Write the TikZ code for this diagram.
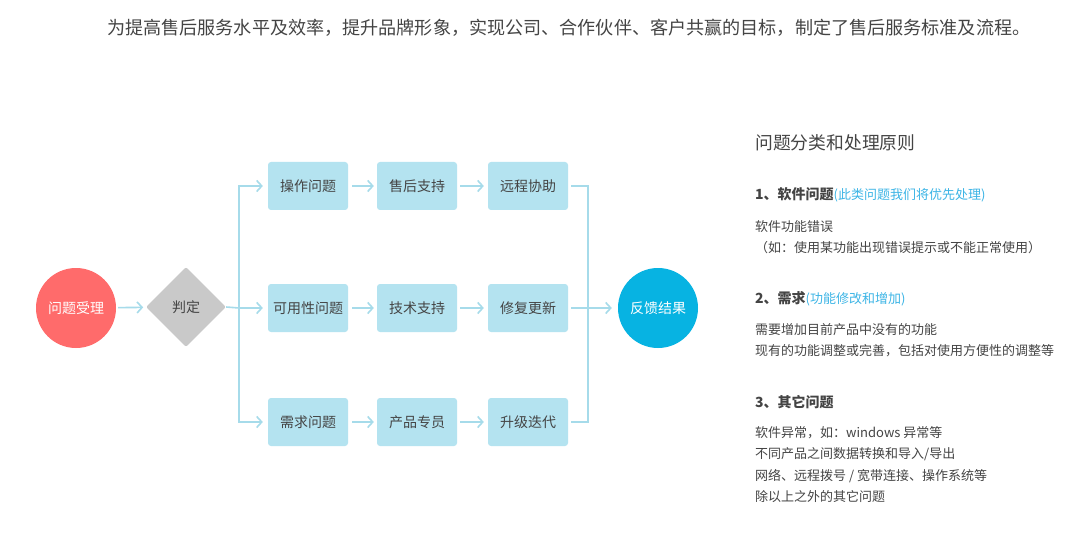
\documentclass[tikz,border=0pt]{standalone}
\usepackage{fontspec}
\setmainfont{Noto Sans CJK SC}
\usetikzlibrary{shapes.geometric,arrows.meta}
\definecolor{boxfill}{HTML}{B4E3F0}
\definecolor{linec}{HTML}{A6DBEA}
\definecolor{redc}{HTML}{FF6B6B}
\definecolor{grayd}{HTML}{C9C9C9}
\definecolor{bluec}{HTML}{07B3E2}
\definecolor{txt}{HTML}{444444}
\definecolor{bluetxt}{HTML}{3DB5E6}
\tikzset{
  stepbox/.style={rectangle, fill=boxfill, rounded corners=3pt, minimum width=80pt, minimum height=48pt, inner sep=0pt, text=txt, font=\fontsize{14}{14}\selectfont},
  roundnode/.style={circle, minimum size=80pt, inner sep=0pt, text=white, font=\fontsize{14}{14}\selectfont},
  conn/.style={draw=linec, line width=1.6pt},
  arr/.style={conn, -{Straight Barb[length=5pt,width=11pt,line width=1.6pt]}},
  paneltxt/.style={anchor=west, inner sep=0pt, text=txt, font=\fontsize{13}{13}\selectfont},
}
\begin{document}
\begin{tikzpicture}[x=1pt,y=-1pt]
\useasboundingbox (0,0) rectangle (1086,545);
\fill[white] (0,0) rectangle (1086,545);

% title
\node[anchor=west, inner sep=0pt, text=txt, font=\fontsize{18.1}{18.1}\selectfont] (title) at (107,28) {为提高售后服务水平及效率，提升品牌形象，实现公司、合作伙伴、客户共赢的目标，制定了售后服务标准及流程。};

% flow
\node[roundnode, fill=redc] (start) at (76,308) {问题受理};
\node[diamond, aspect=1, minimum size=80pt, inner sep=0pt, fill=grayd, rounded corners=2pt, text=txt, font=\fontsize{14}{14}\selectfont] (judge) at (186,307) {判定};

\node[stepbox] (a1) at (308,186) {操作问题};
\node[stepbox] (a2) at (308,308) {可用性问题};
\node[stepbox] (a3) at (308,422) {需求问题};
\node[stepbox] (b1) at (417,186) {售后支持};
\node[stepbox] (b2) at (417,308) {技术支持};
\node[stepbox] (b3) at (417,422) {产品专员};
\node[stepbox] (e1) at (528,186) {远程协助};
\node[stepbox] (e2) at (528,308) {修复更新};
\node[stepbox] (e3) at (528,422) {升级迭代};
\node[roundnode, fill=bluec] (end) at (658,308) {反馈结果};

\coordinate (split) at (239,308);
\coordinate (merge) at (588,308);

\draw[arr, shorten <=2pt, shorten >=3pt] (start) -- (judge);
\draw[conn] (judge.east) -- (split);
\draw[arr, shorten >=5pt] (split) |- (a1.west);
\draw[arr, shorten >=5pt] (split) -- (a2.west);
\draw[arr, shorten >=5pt] (split) |- (a3.west);

\foreach \i in {1,2,3}{
  \draw[arr, shorten <=4pt, shorten >=3pt] (a\i.east) -- (b\i.west);
  \draw[arr, shorten <=3pt, shorten >=4pt] (b\i.east) -- (e\i.west);
}
\draw[conn, shorten <=3pt] (e1.east) -| (merge);
\draw[conn, shorten <=3pt] (e3.east) -| (merge);
\draw[conn, shorten <=3pt] (e2.east) -- (merge);
\draw[arr, shorten >=6pt] (merge) -- (end);

% panel
\node[anchor=west, inner sep=0pt, text=txt, font=\fontsize{17.8}{17.8}\selectfont] (ptitle) at (755,143) {问题分类和处理原则};
\node[paneltxt] (h1) at (755,195) {{\bfseries\fontsize{14}{14}\selectfont 1、软件问题}\textcolor{bluetxt}{(此类问题我们将优先处理)}};
\node[paneltxt] (l11) at (755,227) {软件功能错误};
\node[paneltxt] (l12) at (755,248) {（如：使用某功能出现错误提示或不能正常使用）};
\node[paneltxt] (h2) at (755,299) {{\bfseries\fontsize{14}{14}\selectfont 2、需求}\textcolor{bluetxt}{(功能修改和增加)}};
\node[paneltxt] (l21) at (755,330) {需要增加目前产品中没有的功能};
\node[paneltxt] (l22) at (755,351) {现有的功能调整或完善，包括对使用方便性的调整等};
\node[paneltxt] (h3) at (755,402) {{\bfseries\fontsize{14}{14}\selectfont 3、其它问题}};
\node[paneltxt] (l31) at (755,433) {软件异常，如：windows 异常等};
\node[paneltxt] (l32) at (755,454) {不同产品之间数据转换和导入/导出};
\node[paneltxt] (l33) at (755,476) {网络、远程拨号 / 宽带连接、操作系统等};
\node[paneltxt] (l34) at (755,497) {除以上之外的其它问题};
\end{tikzpicture}
\end{document}
